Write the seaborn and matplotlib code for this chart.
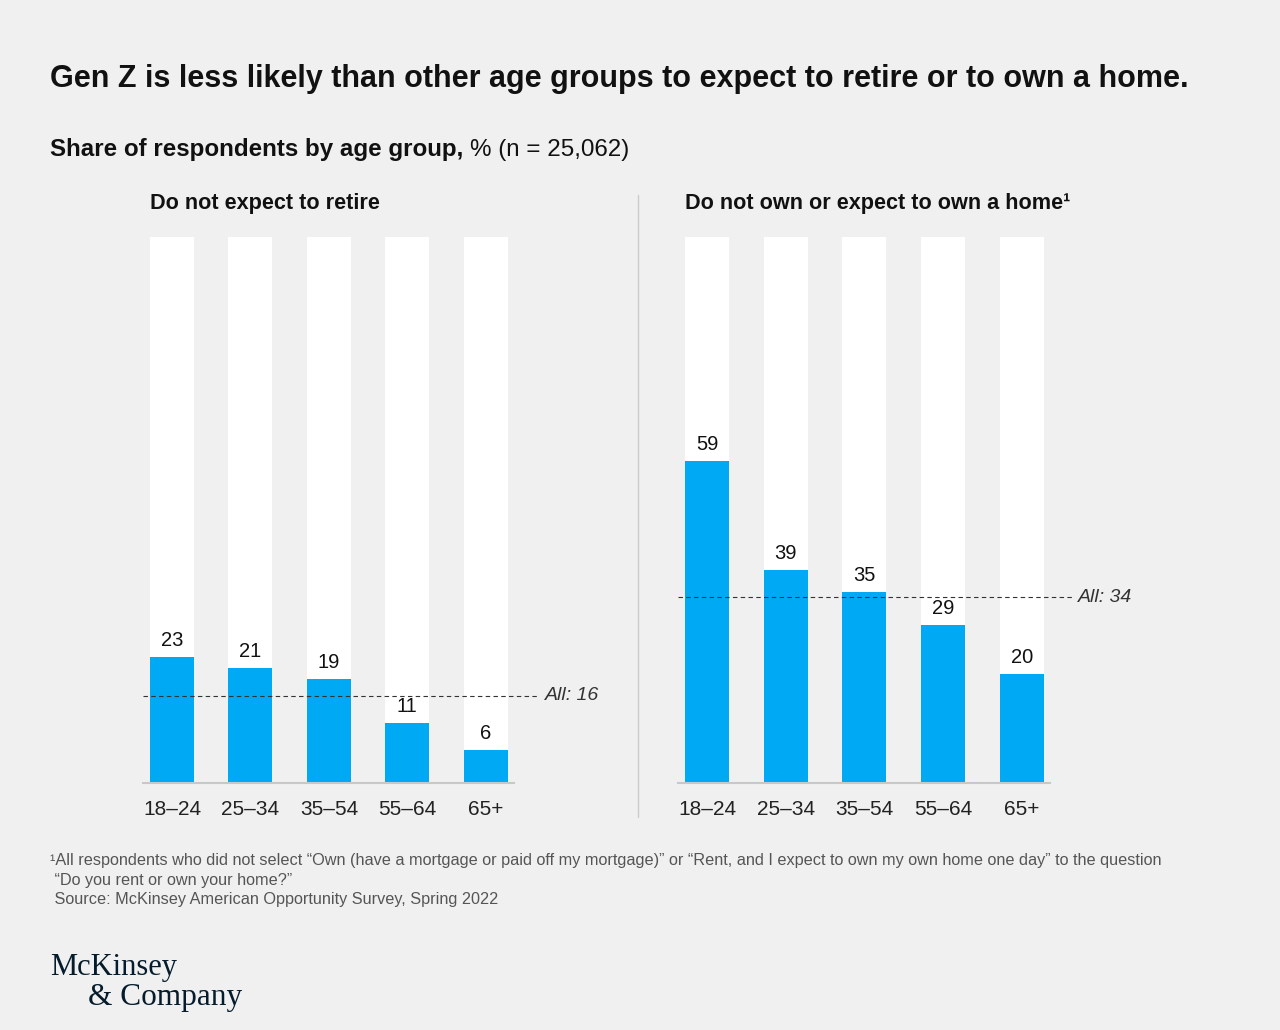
import matplotlib
matplotlib.use("Agg")
import matplotlib.pyplot as plt
import matplotlib.transforms as mtransforms
import seaborn as sns
import pandas as pd

sns.set_theme(style="white")
plt.rcParams['font.family'] = ['Liberation Sans', 'DejaVu Sans']

# data
age_groups = ["18–24", "25–34", "35–54", "55–64", "65+"]
retire_values = [23, 21, 19, 11, 6]
retire_all = 16
home_values = [59, 39, 35, 29, 20]
home_all = 34

BG = "#f0f0f0"
BLUE = "#00a9f4"
INK = "#111111"

fig = plt.figure(figsize=(12.8, 10.3), dpi=100, facecolor=BG)


def panel(ax, values, all_value, title, line_end, text_x):
    df = pd.DataFrame({"age": age_groups, "value": values, "full": [100] * len(values)})
    sns.barplot(data=df, x="age", y="full", color="white", saturation=1,
                width=0.56, linewidth=0, ax=ax)
    sns.barplot(data=df, x="age", y="value", color=BLUE, saturation=1,
                width=0.56, linewidth=0, ax=ax)
    for i, v in enumerate(values):
        ax.annotate(str(v), (i, v), xytext=(0, 5), textcoords="offset points",
                    ha="center", va="bottom", fontsize=14.5, color=INK)
    ax.axhline(all_value, xmin=0, xmax=line_end, clip_on=False, color="#333333",
               lw=0.8, dashes=(4, 3), zorder=5)
    trans = mtransforms.blended_transform_factory(ax.transAxes, ax.transData)
    ax.text(text_x, all_value, f"All: {all_value}", transform=trans, ha="left",
            va="center", fontsize=14, style="italic", color="#333333")
    ax.set_xlim(-0.37, 4.36)
    ax.set_ylim(0, 100)
    ax.set_facecolor(BG)
    ax.set_xlabel("")
    ax.set_ylabel("")
    ax.set_yticks([])
    for s in ["top", "left", "right"]:
        ax.spines[s].set_visible(False)
    ax.spines["bottom"].set_color("#c8c8c8")
    ax.spines["bottom"].set_linewidth(1.5)
    ax.tick_params(axis="x", length=0, pad=12, labelsize=15, labelcolor="#222222")
    ax.text(0.0185, 1.062, title, transform=ax.transAxes, ha="left", va="center",
            fontsize=15.6, fontweight="bold", color=INK)


ax1 = fig.add_axes([143 / 1280, 1 - 783 / 1030, 371 / 1280, 546 / 1030])
ax2 = fig.add_axes([678 / 1280, 1 - 783 / 1030, 372 / 1280, 546 / 1030])
panel(ax1, retire_values, retire_all, "Do not expect to retire", 1.062, 1.083)
panel(ax2, home_values, home_all, "Do not own or expect to own a home¹", 1.059, 1.075)

# divider
fig.add_artist(plt.Line2D([638 / 1280, 638 / 1280], [1 - 195 / 1030, 1 - 817 / 1030],
                          color="#cccccc", lw=1))

fig.text(50 / 1280, 1 - 79 / 1030,
         "Gen Z is less likely than other age groups to expect to retire or to own a home.",
         ha="left", va="center", fontsize=22, fontweight="bold", color=INK)
sub = fig.text(50 / 1280, 1 - 150 / 1030, "Share of respondents by age group, ",
               ha="left", va="center", fontsize=17.4, fontweight="bold", color=INK)
fig.canvas.draw()
plt.annotate("% (n = 25,062)", xy=(1, 0.5), xycoords=sub, va="center", ha="left",
             fontsize=17.4, color=INK)

foot = ("¹All respondents who did not select “Own (have a mortgage or paid off my mortgage)” "
        "or “Rent, and I expect to own my own home one day” to the question\n"
        " “Do you rent or own your home?”\n"
        " Source: McKinsey American Opportunity Survey, Spring 2022")
fig.text(50 / 1280, 1 - 853 / 1030, foot, ha="left", va="top", fontsize=11.7,
         color="#555555", linespacing=1.38)

fig.text(50 / 1280, 1 - 968 / 1030, "McKinsey", ha="left", va="center", fontsize=22,
         family="Liberation Serif", color="#051c2c")
fig.text(88 / 1280, 1 - 997 / 1030, "& Company", ha="left", va="center", fontsize=22.5,
         family="Liberation Serif", color="#051c2c")

fig.savefig("out.png", dpi=100, facecolor=BG)
